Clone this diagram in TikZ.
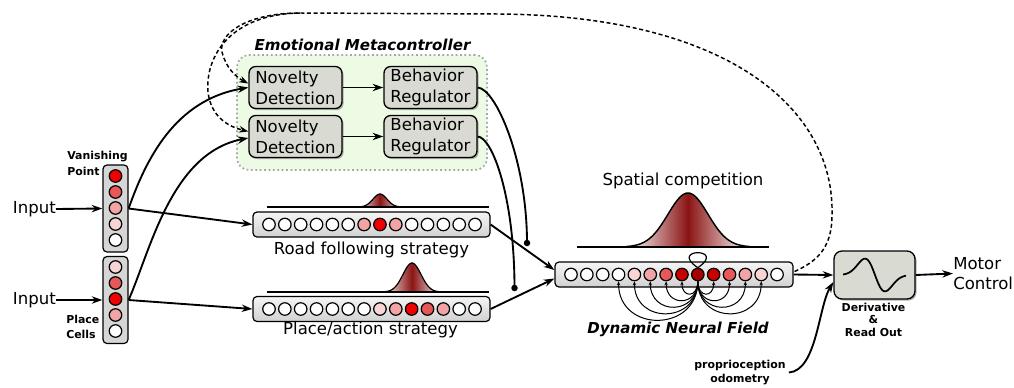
\documentclass[tikz,border=0pt]{standalone}
\usepackage{fontspec}
\setmainfont{DejaVu Sans}
\usetikzlibrary{arrows.meta,shadows,calc}
\newcommand\pxu[1]{#1*0.75pt}
\definecolor{boxgray}{HTML}{D9DBD2}
\definecolor{emcfill}{HTML}{EEFBE4}
\definecolor{cR}{HTML}{F00000}
\definecolor{cM}{HTML}{E85858}
\definecolor{cP}{HTML}{F2A4A4}
\definecolor{cL}{HTML}{F8D4D4}
\definecolor{cD}{HTML}{C80000}
\definecolor{cDD}{HTML}{A80000}
\definecolor{bump}{HTML}{8A1414}
\begin{document}
\begin{tikzpicture}[x=0.75pt,y=-0.75pt, line join=round,
  txt/.style={font=\fontsize{12.4}{15.5}\selectfont, inner sep=0pt},
  sbold/.style={font=\fontsize{8.2}{9.4}\selectfont\bfseries, inner sep=0pt},
  ttl/.style={font=\fontsize{11.3}{13}\selectfont\bfseries\itshape, inner sep=0pt},
  conn/.style={line width=1.4pt},
  arr/.style={conn, -{Stealth[length=8pt,width=5.5pt]}},
  cell/.style={circle, draw, line width=0.9pt, minimum size=\pxu{12.5}, inner sep=0pt},
  colbox/.style={draw, line width=0.9pt, rounded corners=3pt, fill=black!16, minimum width=\pxu{25}, minimum height=\pxu{87}, inner sep=0pt},
  strip/.style={draw, line width=0.9pt, rounded corners=3pt, top color=black!4, bottom color=black!18, minimum width=\pxu{237}, minimum height=\pxu{25}, inner sep=0pt},
  procbox/.style={draw, line width=1pt, rounded corners=5pt, fill=boxgray, minimum width=\pxu{93}, minimum height=\pxu{42}, inner sep=0pt, align=left, font=\fontsize{12.4}{15.5}\selectfont, drop shadow={shadow xshift=1.2pt, shadow yshift=-1.2pt, opacity=0.6}},
  dotn/.style={circle, fill=black, inner sep=0pt, minimum size=\pxu{6.5}},
  dsh/.style={line width=1.1pt, dash pattern=on 3pt off 2pt},
  bumpline/.style={line width=0.9pt},
]
\useasboundingbox (0,0) rectangle (1014,387);

% ---------------- inputs
\node[txt, anchor=east] (in1) at (56,209) {Input};
\node[txt, anchor=east] (in2) at (56,300) {Input};
\node[colbox] (vp) at (115.5,208.5) {};
\node[colbox] (pc) at (115.5,300) {};
\foreach \j/\c in {1/cR,2/cM,3/cP,4/cL,5/white}
  \node[cell, fill=\c] (vp\j) at (115.5,{176+(\j-1)*16}) {};
\foreach \j/\c in {1/cL,2/cM,3/cR,4/cP,5/white}
  \node[cell, fill=\c] (pc\j) at (115.5,{267+(\j-1)*16}) {};
\node[anchor=west, align=left, inner sep=0pt, font=\fontsize{8.2}{12}\selectfont\bfseries] (vplbl) at (67,163) {Vanishing\\Point};
\node[anchor=west, align=left, inner sep=0pt, font=\fontsize{8.2}{11.2}\selectfont\bfseries] (pclbl) at (66,326.5) {Place\\Cells};
\draw[arr] (in1.east) -- (vp.west);
\draw[arr] (in2.east) -- (pc.west);

% ---------------- emotional metacontroller
\node[draw=black!35, line width=1.3pt, dotted, fill=emcfill, rounded corners=9pt, minimum width=\pxu{250}, minimum height=\pxu{115}] (emc) at (362,112.5) {};
\node[ttl] (emct) at (362.5,45) {Emotional Metacontroller};
\node[procbox] (nd1) at (295.5,87.5) {Novelty\\Detection};
\node[procbox] (nd2) at (295.5,136.5) {Novelty\\Detection};
\node[procbox] (br1) at (430.5,87.5) {Behavior\\Regulator};
\node[procbox] (br2) at (430.5,136.5) {Behavior\\Regulator};
\draw[arr, line width=1.2pt] (nd1.east) -- (br1.west);
\draw[arr, line width=1.2pt] (nd2.east) -- (br2.west);

% ---------------- strategies
\node[strip] (road) at (371.5,224.5) {};
\foreach \j/\c in {1/white,2/white,3/white,4/white,5/white,6/white,7/cP,8/cR,9/cP,10/white,11/white,12/white,13/white,14/white}
  \node[cell, fill=\c] (r\j) at ({269+(\j-1)*15.85},224.5) {};
\shade[left color=white, right color=white, middle color=bump] plot[domain=356:404, samples=50, smooth] (\x,{207-13*exp(-((\x-380)^2)/(2*49))}) -- cycle;
\draw[bumpline] plot[domain=356:404, samples=50, smooth] (\x,{207-13*exp(-((\x-380)^2)/(2*49))});
\draw[line width=1pt] (267,207) -- (489,207);
\node[txt] (roadlbl) at (371.5,250) {Road following strategy};

\node[strip] (place) at (371.5,309) {};
\foreach \j/\c in {1/white,2/white,3/white,4/white,5/white,6/white,7/white,8/cL,9/cP,10/cR,11/cM,12/cP,13/white,14/white}
  \node[cell, fill=\c] (p\j) at ({269+(\j-1)*15.85},309) {};
\shade[left color=white, right color=white, middle color=bump] plot[domain=382:442, samples=60, smooth] (\x,{292-29*exp(-((\x-412)^2)/(2*81))}) -- cycle;
\draw[bumpline] plot[domain=382:442, samples=60, smooth] (\x,{292-29*exp(-((\x-412)^2)/(2*81))});
\draw[line width=1pt] (267,292) -- (489,292);
\node[txt] (placelbl) at (370.5,330) {Place/action strategy};

% ---------------- dynamic neural field
\node[strip, minimum width=\pxu{238}] (dnf) at (674,274.5) {};
\foreach \j/\c in {1/white,2/white,3/white,4/white,5/cL,6/cP,7/cM,8/cD,9/cDD,10/cD,11/cM,12/cP,13/cL,14/white}
  \node[cell, fill=\c] (d\j) at ({571+(\j-1)*15.85},274.5) {};
\shade[left color=white, right color=white, middle color=bump] plot[domain=626:750, samples=80, smooth] (\x,{247-54*exp(-((\x-688)^2)/(2*400))}) -- cycle;
\draw[line width=1.1pt] plot[domain=626:750, samples=80, smooth] (\x,{247-54*exp(-((\x-688)^2)/(2*400))});
\draw[line width=1pt] (577,247) -- (769,247);
\node[txt] (spatlbl) at (683,181) {Spatial competition};
\draw[line width=0.9pt] (d9.north) .. controls +(-30,-20) and +(30,-20) .. (d9.north);
\foreach \j in {4,5,6,7,8,10,11,12,13}{
  \pgfmathsetmacro\kk{0.55*abs(\j-9)*15.85+8}
  \draw[line width=0.75pt, -{Stealth[length=3pt,width=2.5pt]}] (d9.south) .. controls +(0,\kk) and +(0,\kk) .. (d\j.south);
}
\node[ttl] (dnflbl) at (678,329) {Dynamic Neural Field};

% ---------------- derivative / read out
\node[draw, line width=1pt, rounded corners=6pt, fill=boxgray, minimum width=\pxu{81}, minimum height=\pxu{48}, drop shadow={shadow xshift=1.2pt, shadow yshift=-1.2pt, opacity=0.6}] (deriv) at (874.5,275) {};
\draw[line width=1.3pt] plot[domain=843:906, samples=70, smooth] (\x,{275+27*((\x-875)/10)*exp(-(((\x-875)/10)^2)/2)});
\node[sbold, align=center] (dlbl) at (873.5,319.5) {Derivative\\\&\\Read Out};
\node[txt, anchor=west, align=left] (motor) at (953,273.5) {Motor\\Control};
\node[align=center, inner sep=0pt, font=\fontsize{8.2}{11.2}\selectfont\bfseries] (prop) at (740,372.5) {proprioception\\odometry};

\draw[arr] (deriv.east) -- (motor.west);
\draw[arr] (dnf.east) -- (deriv.west);
\draw[arr] ($(prop.east)+(3,0)$) .. controls +(28,-2) and +(-15,25) .. ($(deriv.west)+(0,7)$);

% ---------------- connections
\draw[arr] (vp.east) .. controls +(17,-48) and +(-74,12.5) .. (nd1.west);
\draw[arr] (pc.east) .. controls +(22,-50) and +(-77,15) .. ($(nd2.west)+(0,1.5)$);
\draw[arr] (vp.east) -- (road.west);
\draw[arr] (pc.east) -- (place.west);
\draw[arr] (road.east) -- ($(dnf.west)+(0,-4.5)$);
\draw[arr] (place.east) -- ($(dnf.west)+(0,4)$);

\node[dotn] (dot1) at (527,243) {};
\node[dotn] (dot2) at (514.5,288) {};
\draw[conn] (br1.east) .. controls +(18,1) and +(0,-83) .. (dot1.center);
\draw[conn] (br2.east) .. controls +(15,1) and +(0,-90) .. (dot2.center);

% ---------------- dashed feedback
\coordinate (split) at (300,13);
\draw[dsh, -{Stealth[length=7pt,width=5pt]}] ($(dnf.east)+(1,-3)$) .. controls (815,262) and (832,250) .. (832,215) .. controls (835,110) and (730,16) .. (500,14) -- (split) .. controls (245,13) and (218,35) .. (222,52) .. controls (226,68) and (236,77) .. ($(nd1.west)+(0,-4)$);
\draw[dsh, -{Stealth[length=7pt,width=5pt]}] (split) .. controls (232,14) and (205,55) .. (208,92) .. controls (211,118) and (230,127) .. ($(nd2.west)+(0,-5)$);
\end{tikzpicture}
\end{document}
